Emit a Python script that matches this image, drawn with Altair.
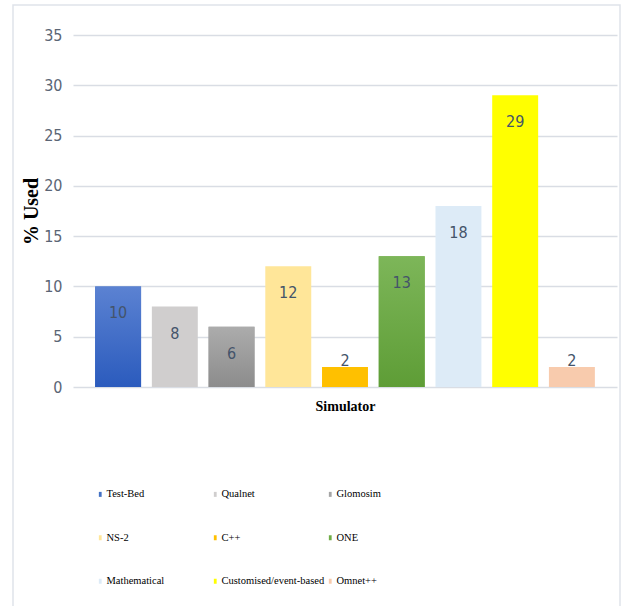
import altair as alt
import pandas as pd

categories = ["Test-Bed", "Qualnet", "Glomosim", "NS-2", "C++", "ONE",
              "Mathematical", "Customised/event-based", "Omnet++"]
values = [10, 8, 6, 12, 2, 13, 18, 29, 2]
colors = ["#4472C4", "#D0CECE", "#A5A5A5", "#FFE699", "#FFC000", "#70AD47",
          "#DDEBF7", "#FFFF00", "#F8CBAD"]
y_ticks = [0, 5, 10, 15, 20, 25, 30, 35]

df = pd.DataFrame({"Simulator": categories, "Used": values})

NARROW = "Liberation Sans Narrow, DejaVu Sans Condensed, sans-serif"
SERIF = "Liberation Serif, Times New Roman, serif"

x_enc = alt.X("Simulator:N", sort=categories,
              scale=alt.Scale(paddingInner=0.19, paddingOuter=0.39),
              axis=alt.Axis(labels=False, ticks=False, domain=False, grid=False,
                            title="Simulator", titleFont=SERIF, titleFontWeight="bold",
                            titleFontSize=14, titleColor="black", titlePadding=12))
y_enc = alt.Y("Used:Q", scale=alt.Scale(domain=[0, 35], nice=False),
              axis=alt.Axis(values=y_ticks, domain=False, ticks=False, grid=True,
                            gridColor="#d9dde4", gridWidth=1.5,
                            labelFont=NARROW, labelFontSize=16, labelColor="#5b6575",
                            labelPadding=11, title="% Used", titleFont=SERIF,
                            titleFontWeight="bold", titleFontSize=20,
                            titleColor="black", titlePadding=2))

frame = alt.Chart(pd.DataFrame({"a": [0]})).mark_rect(
    fillOpacity=0, stroke="#dfe3ea", strokeWidth=1.5
).encode(x=alt.value(-60), x2=alt.value(547), y=alt.value(-30), y2=alt.value(590))

base = alt.Chart(df).encode(x=x_enc, y=y_enc)

bars = base.mark_bar().encode(
    color=alt.Color("Simulator:N", sort=categories,
                    scale=alt.Scale(domain=categories, range=colors),
                    legend=alt.Legend(orient="none", legendX=22, legendY=454,
                                      direction="horizontal",
                                      columns=3, gridAlign="all", title=None,
                                      symbolType="M-0.28,-0.5h0.56v1h-0.56z",
                                      symbolSize=100, symbolStrokeWidth=0,
                                      labelFont=SERIF, labelFontSize=10.5,
                                      labelColor="black", labelOffset=1,
                                      labelLimit=300,
                                      rowPadding=32.5, columnPadding=-8))
)


def grad_layer(name, top, bottom):
    return base.transform_filter(alt.datum.Simulator == name).mark_bar(
        color=alt.Gradient(gradient="linear", x1=0, x2=0, y1=0, y2=1,
                           stops=[alt.GradientStop(color=top, offset=0),
                                  alt.GradientStop(color=bottom, offset=1)]))


g1 = grad_layer("Test-Bed", "#5b82d2", "#2b5bbd")
g2 = grad_layer("Glomosim", "#acacac", "#8c8c8c")
g3 = grad_layer("ONE", "#7db659", "#5e9d36")

labels_big = base.transform_filter(alt.datum.Used >= 5).mark_text(
    baseline="middle", dy=27, font=NARROW, fontSize=16, color="#44546a"
).encode(text="Used:Q")
labels_small = base.transform_filter(alt.datum.Used < 5).mark_text(
    baseline="middle", dy=-6, font=NARROW, fontSize=16, color="#44546a"
).encode(text="Used:Q")

chart = alt.layer(frame, bars, g1, g2, g3, labels_big, labels_small).properties(
    width=544, height=352,
    background="white",
    autosize=alt.AutoSizeParams(type="none"),
    padding={"left": 73, "top": 35, "right": 20, "bottom": 219},
).configure_view(stroke="transparent", strokeWidth=0)

chart.save("out.html", embed_options={"renderer": "svg", "actions": False})
